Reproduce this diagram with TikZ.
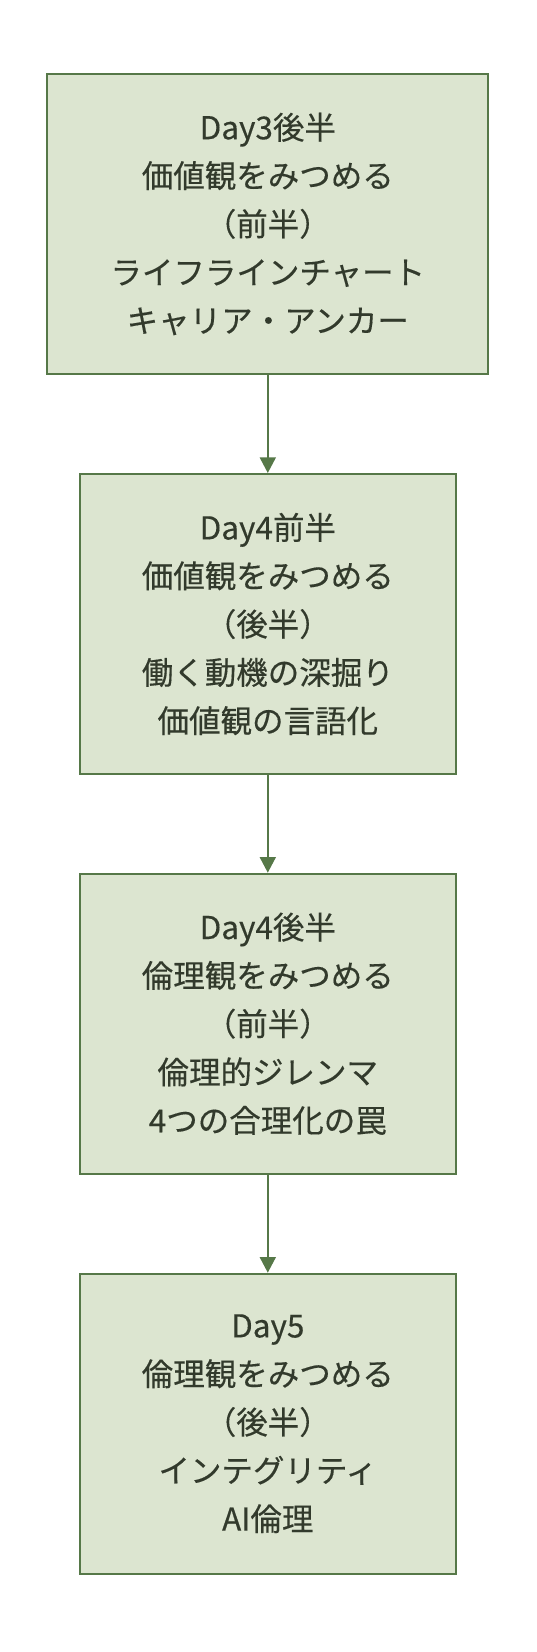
\documentclass[tikz,border=0pt]{standalone}
\usepackage{fontspec}
\setmainfont{Noto Sans CJK JP}[FakeBold=0.35]
\usetikzlibrary{arrows.meta}
\definecolor{boxfill}{RGB}{220,229,208}
\definecolor{boxline}{RGB}{86,120,72}
\definecolor{txt}{RGB}{50,58,44}
\tikzset{
  stepbox/.style={draw=boxline, fill=boxfill, line width=2pt, minimum height=300pt, align=center, text=txt, inner sep=0pt,
    font={\fontsize{31.5}{48.3}\selectfont}},
  flow/.style={draw=boxline, line width=2pt, -{Triangle[length=15.7pt,width=16pt]}}
}
\begin{document}
\begin{tikzpicture}[x=1pt,y=-1pt]
\useasboundingbox (0,0) rectangle (536,1652);
\node[stepbox, minimum width=441pt] (d3) at (267.8,224) {Day3後半\\価値観をみつめる\\（前半）\\ライフラインチャート\\キャリア・アンカー};
\node[stepbox, minimum width=376.3pt] (d4a) at (267.8,624) {Day4前半\\価値観をみつめる\\（後半）\\働く動機の深掘り\\価値観の言語化};
\node[stepbox, minimum width=376.3pt] (d4b) at (267.8,1023.7) {Day4後半\\倫理観をみつめる\\（前半）\\倫理的ジレンマ\\4つの合理化の罠};
\node[stepbox, minimum width=376.3pt] (d5) at (267.8,1423.7) {Day5\\倫理観をみつめる\\（後半）\\インテグリティ\\AI倫理};
\draw[flow] (d3) -- (d4a);
\draw[flow] (d4a) -- (d4b);
\draw[flow] (d4b) -- (d5);
\end{tikzpicture}
\end{document}
